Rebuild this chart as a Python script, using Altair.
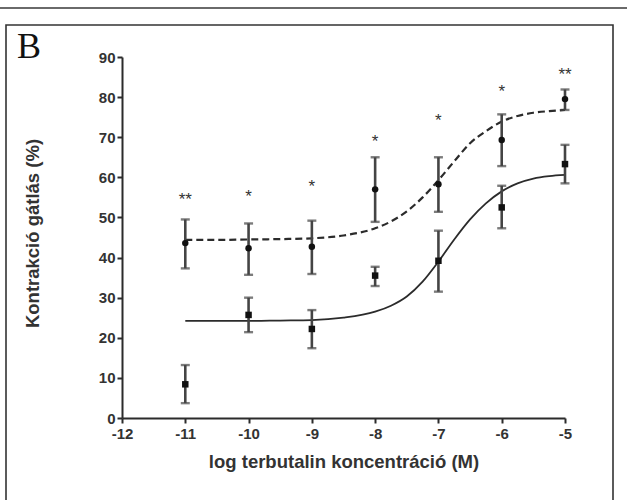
import altair as alt
import pandas as pd

# ---- data ----
log_conc = [-11, -10, -9, -8, -7, -6, -5]
dashed_mean = [43.6, 42.3, 42.7, 57.0, 58.3, 69.3, 79.5]
dashed_hi = [49.5, 48.5, 49.2, 65.0, 65.0, 75.7, 81.9]
dashed_lo = [37.3, 35.7, 35.9, 48.9, 51.4, 62.8, 76.8]
solid_mean = [8.4, 25.7, 22.2, 35.5, 39.2, 52.5, 63.3]
solid_hi = [13.2, 30.0, 26.9, 37.7, 46.7, 57.9, 68.1]
solid_lo = [3.7, 21.4, 17.4, 32.9, 31.5, 47.3, 58.5]
star_text = ["**", "*", "*", "*", "*", "*", "**"]
star_y = [55.2, 55.8, 58.3, 69.6, 74.7, 82.0, 86.3]

curve_x = [-11, -10.5, -10, -9.5, -9, -8.5, -8, -7.75, -7.5, -7.25, -7,
           -6.75, -6.5, -6.25, -6, -5.75, -5.5, -5.25, -5]
curve_solid = [24.2, 24.2, 24.2, 24.3, 24.4, 25.0, 26.5, 28.0, 30.3, 34.0, 39.0,
               44.5, 49.5, 53.5, 56.5, 58.5, 59.7, 60.3, 60.6]
curve_dashed = [44.4, 44.4, 44.5, 44.6, 44.8, 45.5, 47.3, 49.0, 51.5, 55.0, 59.3,
                64.0, 68.5, 71.5, 73.9, 75.3, 76.1, 76.5, 76.8]

x_ticks = [-12, -11, -10, -9, -8, -7, -6, -5]
y_ticks = [0, 10, 20, 30, 40, 50, 60, 70, 80, 90]

W, H = 443, 361
FONT = "Liberation Sans"
DARK = "#2b2b2b"
BAR = "#444444"

pts = pd.DataFrame({
    "x": log_conc,
    "dm": dashed_mean, "dh": dashed_hi, "dl": dashed_lo,
    "sm": solid_mean, "sh": solid_hi, "sl": solid_lo,
    "star": star_text, "sy": star_y,
})
curves = pd.DataFrame({"x": curve_x, "s": curve_solid, "d": curve_dashed})

xs = alt.Scale(domain=[-12, -5], nice=False, zero=False)
ys = alt.Scale(domain=[0, 90], nice=False)

X = alt.X("x:Q", scale=xs, axis=alt.Axis(
    values=x_ticks, title="log terbutalin koncentráció (M)",
    labelExpr="'' + datum.value",
    titleX=W / 2, titleY=43, titleBaseline="middle"))
Y = alt.Y("dm:Q", scale=ys, axis=alt.Axis(
    values=y_ticks, title="Kontrakció gátlás (%)",
    labelExpr="'' + datum.value",
    titleX=-90, titleY=176, titleBaseline="middle", titleAngle=-90))

base = alt.Chart(pts)

axes_layer = base.mark_point(opacity=0).encode(x=X, y=Y)


def series(mcol, hcol, lcol, shape, size):
    rule = base.mark_rule(color=BAR, strokeWidth=2.6).encode(
        x=alt.X("x:Q", scale=xs), y=alt.Y(f"{lcol}:Q", scale=ys), y2=f"{hcol}:Q")
    cap_hi = base.mark_tick(color=BAR, orient="horizontal", size=9, thickness=2.4).encode(
        x=alt.X("x:Q", scale=xs), y=alt.Y(f"{hcol}:Q", scale=ys))
    cap_lo = base.mark_tick(color=BAR, orient="horizontal", size=9, thickness=2.4).encode(
        x=alt.X("x:Q", scale=xs), y=alt.Y(f"{lcol}:Q", scale=ys))
    pt = base.mark_point(shape=shape, filled=True, color="#111111", size=size, opacity=1).encode(
        x=alt.X("x:Q", scale=xs), y=alt.Y(f"{mcol}:Q", scale=ys))
    return rule + cap_hi + cap_lo + pt


dashed_pts = series("dm", "dh", "dl", "circle", 42)
solid_pts = series("sm", "sh", "sl", "square", 42)

curve_base = alt.Chart(curves)
line_s = curve_base.mark_line(color=DARK, strokeWidth=1.8, interpolate="monotone").encode(
    x=alt.X("x:Q", scale=xs), y=alt.Y("s:Q", scale=ys))
line_d = curve_base.mark_line(color=DARK, strokeWidth=2.2, strokeDash=[7, 4],
                              interpolate="monotone").encode(
    x=alt.X("x:Q", scale=xs), y=alt.Y("d:Q", scale=ys))

stars = base.mark_text(font=FONT, fontSize=17, color="#333333", baseline="middle",
                       dy=3).encode(
    x=alt.X("x:Q", scale=xs), y=alt.Y("sy:Q", scale=ys), text="star:N")

deco = alt.Chart(pd.DataFrame({"a": [0]}))
top_line = deco.mark_rule(color="#6a6a6a", strokeWidth=2).encode(
    x=alt.value(-122), x2=alt.value(505), y=alt.value(-49))
box = deco.mark_rect(fillOpacity=0, stroke="#333333", strokeWidth=1.6).encode(
    x=alt.value(-116), x2=alt.value(491), y=alt.value(-32), y2=alt.value(460))
letter_b = deco.mark_text(text="B", font="Liberation Serif", fontSize=36, color="#111111",
                          align="left", baseline="alphabetic").encode(
    x=alt.value(-105), y=alt.value(1))

chart = alt.layer(
    top_line, box, letter_b, axes_layer, line_d, line_s, dashed_pts, solid_pts, stars
).properties(
    width=W, height=H,
    autosize=alt.AutoSizeParams(type="none"),
    padding={"left": 122, "top": 57, "right": 62, "bottom": 82},
).configure_view(stroke=None).configure_axis(
    grid=False, domainColor=DARK, domainWidth=2, tickColor=DARK, tickWidth=2,
    tickSize=5, labelFont=FONT, labelFontWeight="bold", labelFontSize=15,
    labelColor="#333333", labelPadding=2, titleFont=FONT, titleFontWeight="bold",
    titleFontSize=18.5, titleColor="#333333",
).configure_axisX(labelFlush=False, labelPadding=3).configure_axisY(labelFlush=False)

chart.save("out.html", embed_options={"renderer": "svg", "actions": False})
